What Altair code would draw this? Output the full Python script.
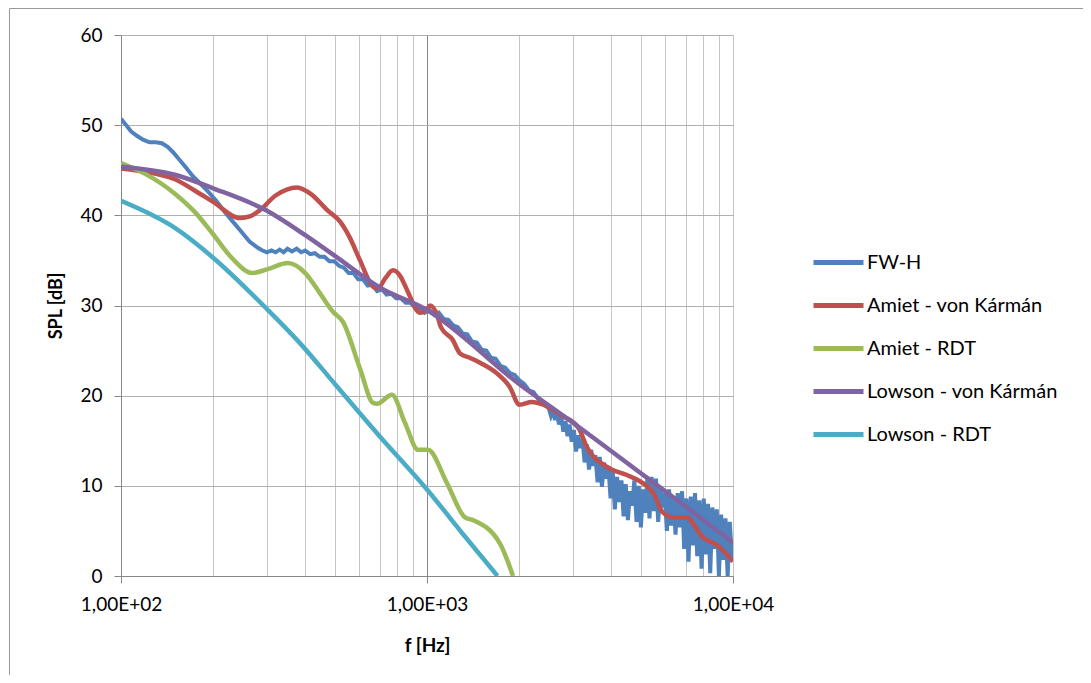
import altair as alt
import pandas as pd

SERIES = ["FW-H", "Amiet - von Kármán", "Amiet - RDT", "Lowson - von Kármán", "Lowson - RDT"]
COLORS = ["#4F81BD", "#C0504D", "#9BBB59", "#8064A2", "#4BACC6"]

# FW-H (measured, noisy)
fwh_f = [100, 104, 108, 113, 118, 124, 130, 136, 142, 148, 155, 163, 172, 182, 193, 205, 218, 232, 247, 263,
         280, 290, 300, 310, 320, 330, 340, 350, 362, 375, 388, 400, 415, 430, 446, 462, 480, 498, 516, 535,
         555, 575, 596, 618, 640, 663, 687, 712, 738, 765, 793, 822, 852, 883, 915, 948, 982, 1018, 1055, 1093,
         1133, 1174, 1217, 1261, 1307, 1354, 1403, 1454, 1507, 1562, 1618, 1677, 1738, 1801, 1866, 1934, 2004,
         2077, 2152, 2230, 2311, 2395,
         2500, 2540, 2580, 2620, 2660, 2700, 2745, 2790, 2835, 2880, 2925, 2970, 3020, 3070, 3120, 3170, 3220,
         3275, 3330, 3385, 3440, 3495, 3550, 3610, 3670, 3730, 3790, 3850, 3915, 3980, 4045, 4110, 4180, 4250,
         4320, 4390, 4460, 4535, 4610, 4685, 4760, 4840, 4920, 5000, 5080, 5165, 5250, 5335, 5420, 5510, 5600,
         5695, 5790, 5885, 5980, 6080, 6180, 6280, 6385, 6490, 6595, 6705, 6815, 6925, 7040, 7155, 7275, 7395,
         7515, 7640, 7765, 7895, 8025, 8155, 8290, 8425, 8565, 8705, 8850, 8995, 9145, 9295, 9450, 9605, 9760,
         9920, 10000]
fwh_spl = [50.7, 50.0, 49.3, 48.8, 48.4, 48.1, 48.1, 48.0, 47.6, 47.0, 46.2, 45.3, 44.3, 43.5, 42.6, 41.6, 40.4, 39.3, 38.2, 37.1,
           36.4, 36.1, 35.9, 36.1, 35.9, 36.2, 35.9, 36.3, 36.0, 36.3, 35.9, 36.1, 35.7, 35.8, 35.4, 35.4, 34.9, 34.9, 34.4, 34.2,
           33.6, 33.6, 32.9, 32.9, 32.2, 32.3, 31.6, 31.8, 31.2, 31.3, 30.8, 30.8, 30.3, 30.3, 29.8, 29.7, 29.2, 29.5, 29.0, 29.2,
           28.5, 28.4, 27.8, 27.6, 26.9, 26.8, 26.0, 25.9, 25.1, 25.0, 24.2, 24.1, 23.3, 23.1, 22.5, 22.3, 21.7,
           21.3, 20.6, 20.4, 19.6, 19.1,
           18.6, 17.8, 18.5, 17.3, 18.1, 16.8, 17.7, 16.0, 17.2, 15.5, 16.8, 14.9, 16.2, 13.8, 15.6, 14.2, 15.2,
           12.6, 14.6, 11.8, 14.0, 12.2, 13.4, 10.4, 13.2, 9.9, 12.6, 10.8, 12.2, 8.6, 11.6, 7.4, 11.0, 8.2,
           10.6, 6.6, 10.2, 6.2, 9.4, 7.8, 10.6, 6.0, 10.0, 5.4, 9.6, 7.0, 10.8, 6.4, 11.0, 7.2, 10.8,
           6.0, 9.8, 7.6, 9.2, 5.0, 9.6, 5.6, 8.8, 4.6, 9.2, 5.4, 9.4, 3.0, 8.6, 1.6, 8.8, 3.4,
           9.2, 2.2, 8.4, 0.8, 8.6, 2.4, 8.0, 0.3, 7.6, 3.0, 7.4, 0.0, 6.8, 1.8, 6.4, 0.0, 6.0,
           2.0, 4.0]

# Amiet - von Karman
avk_f = [100, 130, 150, 175, 200, 245, 265, 285, 320, 376, 420, 471, 520, 560, 604, 666, 692, 730, 774,
         820, 861, 948, 1000, 1024, 1080, 1110, 1213, 1281, 1380, 1500, 1688, 1862, 2005, 2200, 2400, 2720,
         3130, 3330, 3870, 4500, 4970, 5490, 5880, 6380, 7050, 7960, 8880, 10000]
avk_spl = [45.2, 44.6, 44.0, 42.7, 41.5, 39.7, 39.9, 40.6, 42.2, 43.1, 42.3, 40.6, 39.3, 37.5, 35.0, 32.1, 31.9, 33.0, 33.9,
           33.2, 31.7, 29.2, 29.6, 30.0, 28.9, 27.6, 26.2, 24.7, 24.2, 23.6, 22.5, 21.0, 19.0, 19.3, 19.0, 17.9,
           16.4, 14.3, 12.1, 11.2, 10.5, 9.2, 7.1, 6.5, 6.5, 4.3, 3.4, 1.6]

# Amiet - RDT
ardt_f = [100, 120, 150, 175, 200, 230, 268, 300, 351, 400, 450, 493, 531, 604, 666, 687, 768, 847, 935, 1007,
          1162, 1331, 1414, 1732, 1910]
ardt_spl = [45.8, 44.6, 42.4, 40.3, 37.9, 35.3, 33.6, 34.0, 34.7, 33.6, 31.2, 29.3, 28.2, 23.0, 19.2, 19.1, 20.1, 17.0, 14.0, 14.0,
            10.3, 6.5, 6.2, 3.6, 0.0]

# Lowson - von Karman
lvk_f = [100, 150, 200, 300, 400, 500, 700, 1000, 2000, 3000, 5000, 7000, 10000]
lvk_spl = [45.4, 44.5, 43.0, 40.5, 37.8, 35.5, 32.0, 29.5, 21.3, 17.0, 11.4, 7.7, 3.7]

# Lowson - RDT
lrdt_f = [100, 150, 200, 300, 385, 500, 700, 1000, 1300, 1700]
lrdt_spl = [41.6, 38.6, 35.3, 29.6, 25.8, 21.3, 15.5, 9.6, 4.8, 0.0]

X_GRID = [100, 200, 300, 400, 500, 600, 700, 800, 900, 1000,
          2000, 3000, 4000, 5000, 6000, 7000, 8000, 9000, 10000]
Y_TICKS = [0, 10, 20, 30, 40, 50, 60]

rows = []
for name, fs, vs in zip(SERIES, [fwh_f, avk_f, ardt_f, lvk_f, lrdt_f],
                        [fwh_spl, avk_spl, ardt_spl, lvk_spl, lrdt_spl]):
    for f, v in zip(fs, vs):
        rows.append({"series": name, "f": f, "spl": v})
df = pd.DataFrame(rows)

FONT = "Lato"
is_decade = "indexof([100, 1000, 10000], datum.value) >= 0"

x_enc = alt.X(
    "f:Q",
    scale=alt.Scale(type="log", domain=[100, 10000], nice=False),
    axis=alt.Axis(
        values=X_GRID,
        title="f [Hz]",
        labelExpr=is_decade + " ? '1,00E+0' + round(log(datum.value) / LN10) : ''",
        grid=True,
        gridColor={"condition": {"test": "datum.value == 1000", "value": "#868686"}, "value": "#c4c4c4"},
        gridWidth=1,
        tickColor={"condition": {"test": is_decade, "value": "#868686"}, "value": "transparent"},
        tickSize=7,
        domainColor="#868686",
        labelFontSize=19,
        labelPadding=12,
        labelFlush=False,
        titleFontSize=19,
        titleFontWeight="bold",
        titlePadding=22,
    ),
)
y_enc = alt.Y(
    "spl:Q",
    scale=alt.Scale(domain=[0, 60], nice=False, zero=False),
    axis=alt.Axis(
        values=Y_TICKS,
        title="SPL [dB]",
        grid=True,
        gridColor="#b0b0b0",
        tickColor="#868686",
        tickSize=7,
        domainColor="#868686",
        labelFontSize=19,
        labelPadding=12,
        titleFontSize=18,
        titleFontWeight="bold",
        titlePadding=14,
    ),
)
color_enc = alt.Color(
    "series:N",
    scale=alt.Scale(domain=SERIES, range=COLORS),
    sort=SERIES,
    legend=alt.Legend(
        title=None,
        orient="none",
        legendX=690,
        legendY=200,
        symbolType="stroke",
        symbolSize=2500,
        symbolStrokeWidth=5,
        labelFontSize=20,
        labelFont=FONT,
        labelColor="#000000",
        labelOffset=1,
        labelLimit=0,
        rowPadding=5,
    ),
)

frame = alt.Chart(pd.DataFrame({"k": [0]})).mark_rect(
    fillOpacity=0, stroke="#9a9a9a", strokeWidth=1, clip=False
).encode(x=alt.value(-111.5), x2=alt.value(1100), y=alt.value(-26.5), y2=alt.value(700))

layers = [frame]
for name in SERIES:
    layers.append(
        alt.Chart(df)
        .transform_filter(alt.datum.series == name)
        .mark_line(
            interpolate="linear" if name == "FW-H" else "monotone",
            strokeWidth=4.5 if name != "FW-H" else 4,
            clip=True,
        )
        .encode(x=x_enc, y=y_enc, color=color_enc)
    )

chart = (
    alt.layer(*layers)
    .properties(
        width=612,
        height=541,
        autosize=alt.AutoSizeParams(type="none"),
        padding={"left": 113, "top": 27, "right": 350, "bottom": 99},
    )
    .configure_view(stroke="transparent")
    .configure_axis(labelFont=FONT, titleFont=FONT, labelColor="#000000", titleColor="#000000")
)

chart.save("out.html", embed_options={"renderer": "svg", "actions": False})
